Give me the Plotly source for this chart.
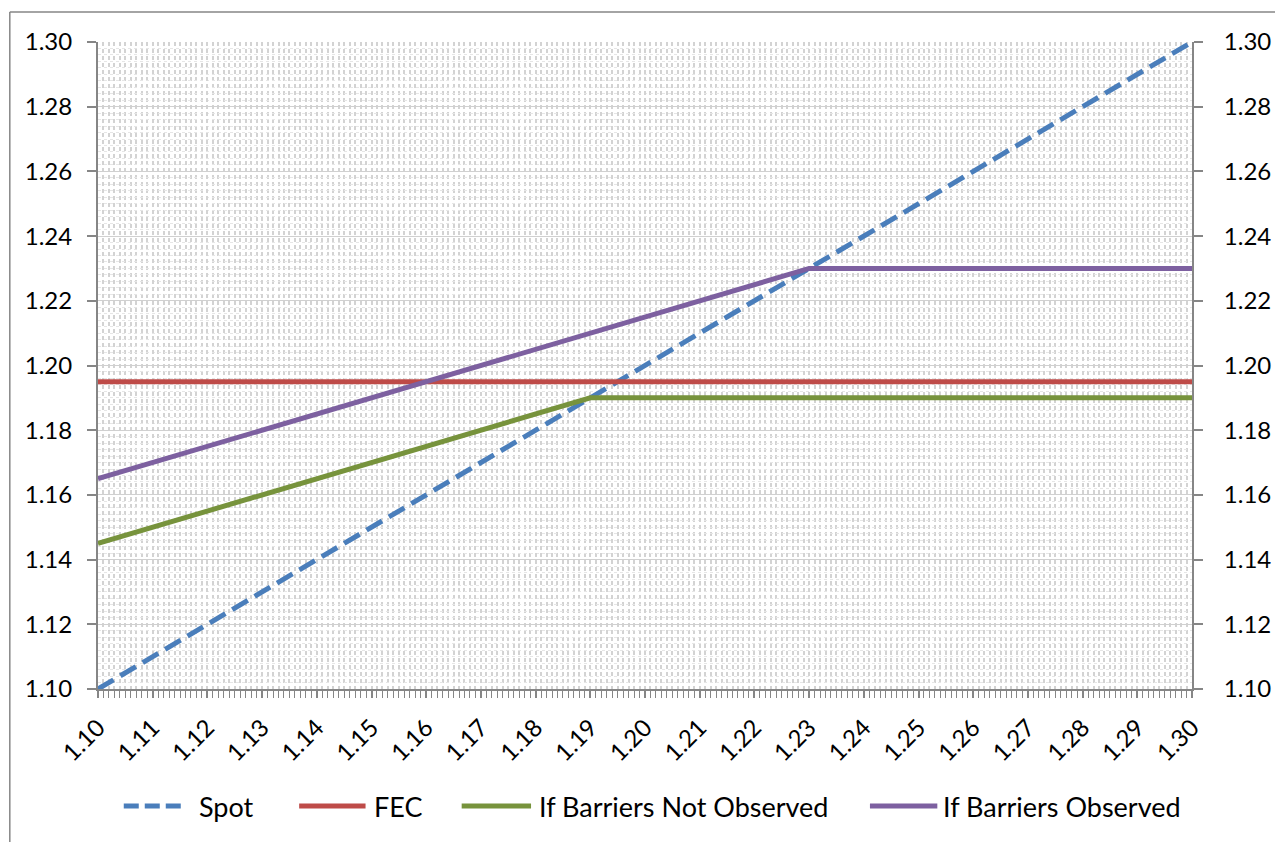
import plotly.graph_objects as go

# Data
spot_x = [1.10, 1.30]
spot_y = [1.10, 1.30]
fec_x = [1.10, 1.30]
fec_y = [1.195, 1.195]
not_obs_x = [1.10, 1.19, 1.30]
not_obs_y = [1.145, 1.19, 1.19]
obs_x = [1.10, 1.23, 1.30]
obs_y = [1.165, 1.23, 1.23]

series_names = ["Spot", "FEC", "If Barriers Not Observed", "If Barriers Observed"]
series_colors = ["#4A7EBB", "#BE4B48", "#77933C", "#7D60A0"]

x_ticks = [round(1.10 + 0.01 * i, 2) for i in range(21)]
x_tick_text = [f"{v:.2f}" for v in x_ticks]
y_ticks = [round(1.10 + 0.02 * i, 2) for i in range(11)]
y_tick_text = [f"{v:.2f}" for v in y_ticks]

FONT = "Lato"
AX = "#868686"
GRID = "#d3d3d3"
W, H = 1275, 834
ML, MR, MT, MB = 90, 81, 34, 153
PW, PH = W - ML - MR, H - MT - MB
SPOT_DASH = "18px,8px"
TICK_SIZE = 24
LEG_SIZE = 27


def px_x(x):
    return (x - ML) / PW


def px_y(y):
    return (H - MB - y) / PH


fig = go.Figure()
data = [(spot_x, spot_y), (fec_x, fec_y), (not_obs_x, not_obs_y), (obs_x, obs_y)]
for (xs, ys), name, col in zip(data, series_names, series_colors):
    fig.add_trace(go.Scatter(
        x=xs, y=ys, mode="lines", name=name, showlegend=False,
        line=dict(color=col, width=5, dash=SPOT_DASH if name == "Spot" else "solid")))
# invisible trace to carry the right-hand mirrored axis
fig.add_trace(go.Scatter(x=spot_x, y=spot_y, yaxis="y2", mode="lines", showlegend=False,
                         hoverinfo="skip", line=dict(width=0, color="rgba(0,0,0,0)")))

fig.update_layout(
    width=W, height=H,
    margin=dict(l=ML, r=MR, t=MT, b=MB),
    paper_bgcolor="white", plot_bgcolor="white",
    font=dict(family=FONT, size=TICK_SIZE, color="#000000"),
    showlegend=False,
    xaxis=dict(
        range=[1.10, 1.30], tickmode="array", tickvals=x_ticks, ticktext=x_tick_text,
        tickangle=-45, ticks="outside", ticklen=7, tickcolor=AX, tickwidth=1.5,
        showline=True, linecolor=AX, linewidth=2,
        showgrid=True, gridcolor=GRID, gridwidth=1.5, griddash="4px,3px",
        minor=dict(dtick=0.001, tick0=1.10, ticks="outside", ticklen=7, tickcolor=AX,
                   tickwidth=1.2, showgrid=True, gridcolor=GRID, gridwidth=1.5,
                   griddash="4px,3px"),
        zeroline=False, ticklabelstandoff=6,
        tickfont=dict(family=FONT, size=TICK_SIZE),
    ),
    yaxis=dict(
        range=[1.10, 1.30], tickmode="array", tickvals=y_ticks, ticktext=y_tick_text,
        ticks="outside", ticklen=9, tickcolor=AX, tickwidth=1.5,
        showline=True, linecolor=AX, linewidth=2,
        showgrid=True, gridcolor="#d0d0d0", gridwidth=1.2,
        minor=dict(dtick=0.002, tick0=1.10, showgrid=True, gridcolor="#e6e6e6", gridwidth=1,
                   griddash="3px,3px", ticks=""),
        zeroline=False, ticklabelstandoff=10,
        tickfont=dict(family=FONT, size=TICK_SIZE),
    ),
    yaxis2=dict(
        range=[1.10, 1.30], overlaying="y", side="right",
        tickmode="array", tickvals=y_ticks, ticktext=y_tick_text,
        ticks="outside", ticklen=9, tickcolor=AX, tickwidth=1.5,
        showline=True, linecolor=AX, linewidth=2, showgrid=False, zeroline=False,
        ticklabelstandoff=16, tickfont=dict(family=FONT, size=TICK_SIZE),
    ),
)

# outer chart-area border (left and top edges visible in the reference)
fig.add_shape(type="line", xref="paper", yref="paper",
              x0=px_x(1), x1=1.2, y0=px_y(4), y1=px_y(4),
              line=dict(color=AX, width=1.5))
fig.add_shape(type="line", xref="paper", yref="paper",
              x0=px_x(1), x1=px_x(1), y0=px_y(4), y1=-0.4,
              line=dict(color=AX, width=1.5))

# legend (drawn to match the long Excel-style legend keys)
leg_sym = [(114, 179), (291, 362), (455, 529), (867, 939)]
leg_txt = [190, 366, 533, 941]
leg_y = 798
for name, col, (s0, s1), tx in zip(series_names, series_colors, leg_sym, leg_txt):
    fig.add_shape(type="line", xref="paper", yref="paper",
                  x0=px_x(s0 + 2), x1=px_x(s1 - 2), y0=px_y(leg_y), y1=px_y(leg_y),
                  line=dict(color=col, width=5,
                            dash="15px,6px" if name == "Spot" else "solid"))
    fig.add_annotation(xref="paper", yref="paper", x=px_x(tx), y=px_y(leg_y),
                       text=name, showarrow=False, xanchor="left", yanchor="middle",
                       font=dict(family=FONT, size=LEG_SIZE, color="#000000"))

fig.write_html("out.html")
